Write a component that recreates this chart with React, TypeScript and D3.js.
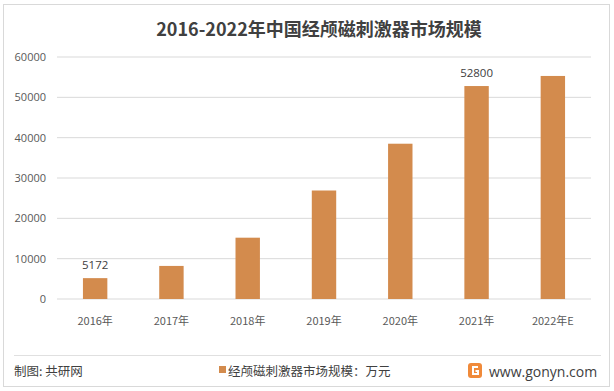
import React from "react";
import * as d3 from "d3";

const categories = ["2016年", "2017年", "2018年", "2019年", "2020年", "2021年", "2022年E"];
const values = [5172, 8200, 15200, 26900, 38500, 52800, 55300];
const labelShown = [true, false, false, false, false, true, false];
const yTicks = [0, 10000, 20000, 30000, 40000, 50000, 60000];

export default function App() {
  const W = 614, H = 391;
  const m = { left: 57, right: 591, top: 57, bottom: 299 };
  const x = d3.scaleBand<string>().domain(categories).range([m.left, m.right]).paddingInner(0.68).paddingOuter(0.34);
  const y = d3.scaleLinear().domain([0, 60000]).range([m.bottom, m.top]);
  const font = "'Open Sans', 'Noto Sans CJK SC', sans-serif";
  const cjk = "'Noto Sans CJK SC', sans-serif";
  return (
    <svg width={W} height={H} style={{ position: "absolute", left: 0, top: 0, background: "#fff" }}>
      <rect x={3.5} y={4.5} width={606} height={382} fill="#fff" stroke="#d9d9d9" />
      <text x={319} y={36} textAnchor="middle" fontFamily={cjk} fontWeight="bold" fontSize={18} fill="#404040">
        2016-2022年中国经颅磁刺激器市场规模
      </text>
      {yTicks.map((t) => (
        <g key={t}>
          <line x1={m.left} x2={m.right} y1={y(t)} y2={y(t)} stroke="#d9d9d9" strokeWidth={1} />
          <text x={46} y={y(t) + 4} textAnchor="end" fontFamily={font} fontSize={11} fill="#595959">{t}</text>
        </g>
      ))}
      {categories.map((c, i) => (
        <g key={c}>
          <rect x={x(c)} y={y(values[i])} width={x.bandwidth()} height={y(0) - y(values[i])} fill="#D38B4D" />
          {labelShown[i] && (
            <text x={(x(c) as number) + x.bandwidth() / 2} y={y(values[i]) - 9} textAnchor="middle" fontFamily={font} fontSize={11.5} fill="#404040">{values[i]}</text>
          )}
          <text x={(x(c) as number) + x.bandwidth() / 2} y={325} textAnchor="middle" fontFamily={cjk} fontSize={11} fill="#595959">{c}</text>
        </g>
      ))}
      <line x1={14} x2={601} y1={355.5} y2={355.5} stroke="#e0e0e0" />
      <text x={14} y={376} fontFamily={cjk} fontSize={12.5} fill="#404040">制图: 共研网</text>
      <rect x={219} y={366} width={7} height={7} fill="#D38B4D" />
      <text x={228} y={376} fontFamily={cjk} fontSize={12.5} fill="#404040">经颅磁刺激器市场规模：万元</text>
      <g transform="translate(468,363)">
        <rect x={0} y={0} width={14} height={15} rx={3} fill="#F08A3A" />
        <path d="M10 4 H5 V11 H10 V8 H7.5" fill="none" stroke="#fff" strokeWidth={2} />
      </g>
      <text x={489} y={377} fontFamily={font} fontSize={14} fill="#404040">www.gonyn.com</text>
    </svg>
  );
}
